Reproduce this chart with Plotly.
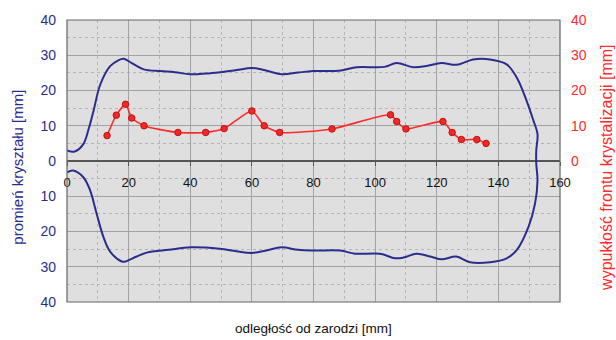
import plotly.graph_objects as go

# Crystal radius profile (upper contour, rounded end, lower contour) [mm]
upper_x = [0, 2.5, 5.3, 7, 8.6, 10.8, 14, 16.5, 18.4, 21, 24.9, 30.3, 35, 40, 45, 49.7, 55, 60, 64,
           69.7, 75, 80, 89, 94, 103, 107, 112.4, 117, 121.5, 126.5, 131.8, 137.3, 142.7]
upper_y = [3.0, 2.7, 4.8, 9, 14.2, 21.7, 26.9, 28.5, 29.0, 27.8, 26.0, 25.5, 25.2, 24.6, 24.8, 25.2,
           25.8, 26.4, 25.8, 24.6, 25.1, 25.5, 25.7, 26.6, 26.7, 27.8, 26.6, 27.0, 27.8, 27.3, 28.8, 28.8, 27.4]
cap_x = [146, 149.2, 151.4, 152.7, 152.3, 152.3, 152.7, 151.9, 149.8, 146]
cap_y = [23.6, 17, 11.4, 7.7, 3.0, -0.8, -5.5, -12.1, -18.6, -25.2]
lower_x = [142.7, 137.3, 130.8, 126.3, 121.6, 117.9, 113.5, 109.2, 106.5, 101.6, 93.5, 88.6, 80, 75,
           69.6, 65, 60, 55, 49.5, 40.3, 33, 25.9, 22.6, 19, 17.8, 14, 11.8, 9.6, 7.5, 5.3, 2, 0]
lower_y = [-27.6, -28.7, -28.7, -27.1, -27.9, -27.1, -26.3, -27.4, -27.6, -26.3, -26.3, -25.4, -25.4,
           -25.2, -24.5, -25.3, -26.1, -25.6, -24.9, -24.5, -25.2, -26.0, -27.1, -28.5, -28.5, -25.7,
           -21.5, -14.9, -8.3, -4.6, -2.7, -3.2]

# Crystallization front convexity [mm]
front_x = [13, 16, 19, 21, 25, 36, 45, 51, 60, 64, 69, 86, 105, 107, 110, 122, 125, 128, 133, 136]
front_y = [7.2, 13, 16.1, 12.2, 10, 8.1, 8.1, 9.2, 14.2, 10, 8.1, 9.1, 13.1, 11.2, 9.1, 11.2, 8.1,
           6.1, 6.1, 5.0]

x_ticks = [0, 20, 40, 60, 80, 100, 120, 140, 160]
left_ticks = [-40, -30, -20, -10, 0, 10, 20, 30, 40]
left_text = [str(abs(v)) for v in left_ticks]
right_ticks = [0, 10, 20, 30, 40]

BLUE = "#2b2d8e"
RED = "#ff2a2a"
FONT = "Liberation Sans, Arial, sans-serif"

fig = go.Figure()
fig.add_trace(go.Scatter(
    x=upper_x + cap_x + lower_x, y=upper_y + cap_y + lower_y,
    mode="lines", line=dict(color=BLUE, width=2, shape="spline", smoothing=1.0),
    hoverinfo="skip", showlegend=False))
fig.add_trace(go.Scatter(
    x=front_x, y=front_y, yaxis="y2", mode="lines+markers",
    line=dict(color=RED, width=1.6, shape="spline", smoothing=0.6),
    marker=dict(size=6.5, color="#f02828", line=dict(color="#c41010", width=1)),
    showlegend=False))

fig.update_layout(
    width=616, height=340,
    margin=dict(l=67, r=56, t=18, b=38),
    paper_bgcolor="white", plot_bgcolor="#dfdfdf",
    font=dict(family=FONT, size=13),
    xaxis=dict(range=[0, 160], tickvals=x_ticks, anchor="free", position=0.5,
               showline=False, zeroline=False,
               ticks="outside", ticklen=4, tickcolor="#555555",
               tickfont=dict(color="#111111", size=13), ticklabelstandoff=5,
               showgrid=True, gridcolor="#a2a2a2", gridwidth=1,
               minor=dict(dtick=10, showgrid=True, gridcolor="#b6b6b6", griddash="dot", gridwidth=1)),
    yaxis=dict(range=[-40, 40], tickvals=left_ticks, ticktext=left_text,
               tickfont=dict(color=BLUE, size=14), ticklabelstandoff=10,
               showgrid=True, gridcolor="#a2a2a2", gridwidth=1,
               zeroline=True, zerolinecolor="#555555", zerolinewidth=1.5,
               showline=False,
               minor=dict(dtick=5, showgrid=True, gridcolor="#b6b6b6", griddash="dot", gridwidth=1)),
    yaxis2=dict(range=[-40, 40], overlaying="y", side="right", tickvals=right_ticks,
                tickfont=dict(color=RED, size=14), ticklabelstandoff=10,
                showgrid=False, zeroline=False, showline=False),
    shapes=[dict(type="rect", xref="paper", yref="paper", x0=0, x1=1, y0=0, y1=1,
                 line=dict(color="#666666", width=1.2), fillcolor="rgba(0,0,0,0)", layer="above")],
    annotations=[
        dict(text="promień kryształu [mm]", xref="paper", yref="paper", x=-0.0994, y=0.48,
             textangle=-90, showarrow=False, font=dict(color=BLUE, size=15),
             xanchor="center", yanchor="middle"),
        dict(text="wypukłość frontu krystalizacji [mm]", xref="paper", yref="paper", x=1.093, y=0.475,
             textangle=-90, showarrow=False, font=dict(color=RED, size=16),
             xanchor="center", yanchor="middle"),
        dict(text="odległość od zarodzi [mm]", xref="paper", yref="paper", x=0.5, y=-0.095,
             showarrow=False, font=dict(color="#111111", size=13.5),
             xanchor="center", yanchor="middle"),
    ],
)

fig.write_html("out.html")
